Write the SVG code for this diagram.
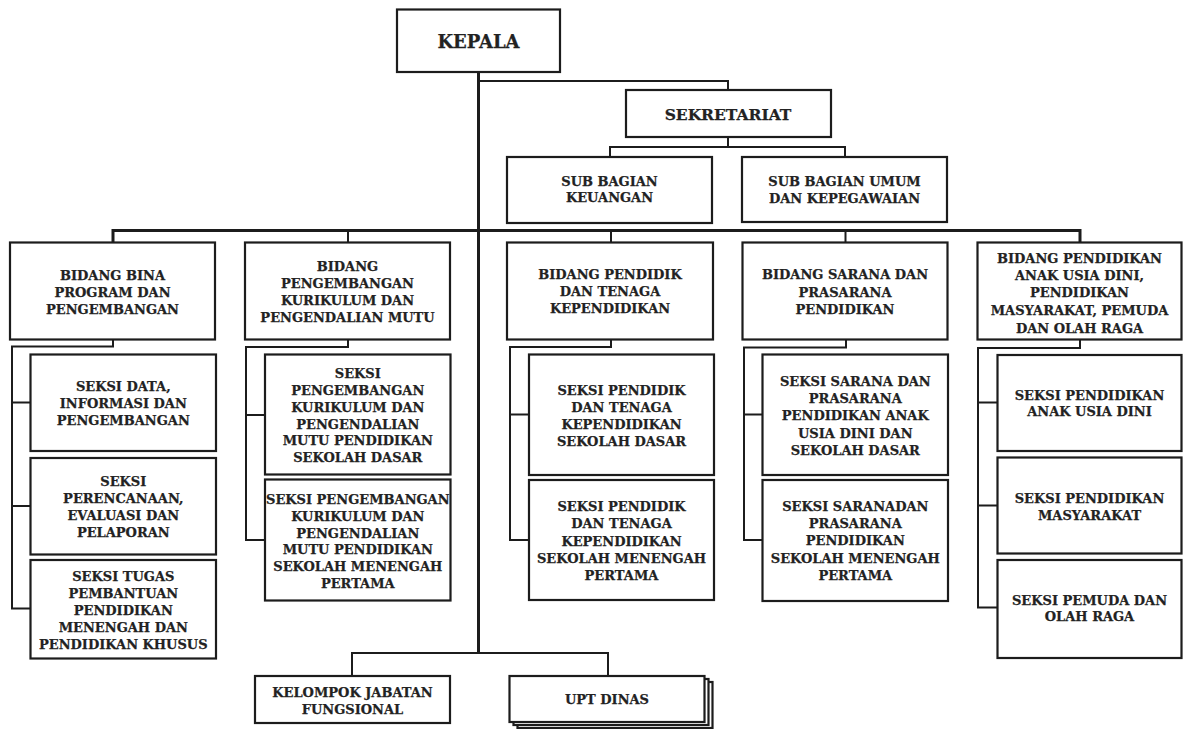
<svg xmlns="http://www.w3.org/2000/svg" width="1184" height="729" viewBox="0 0 1184 729">
<style>
.box{fill:#fff;stroke:#1c1c1c;stroke-width:2.2}
.t{font-family:"DejaVu Serif","Liberation Serif",serif;font-weight:bold;font-size:13px;fill:#222;stroke:#222;stroke-width:0.25;text-anchor:middle}
.big{font-size:18px}
.mid{font-size:15.5px}
.ln{fill:none;stroke:#1c1c1c;stroke-width:2}
.thick{stroke-width:3}
</style>
<rect width="1184" height="729" fill="#fff"/>
<g id="connectors">
<path class="ln thick" d="M478.5,72 V653"/>
<path class="ln" d="M478.5,81 H728 V90"/>
<path class="ln" d="M728,137 V147 M610,157 V147 H845 V157"/>
<path class="ln thick" d="M113,242.5 V230.5 H1080 V242.5"/>
<path class="ln" d="M348,230.5 V242.5 M611,230.5 V242.5 M845.5,230.5 V242.5"/>
<path class="ln" d="M113,339.5 V346.5 H12 V608.5 H30.5 M12,402.5 H30.5 M12,506 H30.5"/>
<path class="ln" d="M348,339.5 V347 H246 V540 H265 M246,415 H265"/>
<path class="ln" d="M611,339.5 V347 H510 V540 H529 M510,414.5 H529"/>
<path class="ln" d="M846,339.5 V347.5 H744 V540 H762.5 M744,414.5 H762.5"/>
<path class="ln" d="M1080,339.5 V348 H978 V607.5 H997.5 M978,402.5 H997.5 M978,505.5 H997.5"/>
<path class="ln" d="M352,676 V653 H608 V676"/>
</g>
<g id="kepala">
<rect class="box" x="397" y="9.5" width="163" height="62.5"/>
<text class="t big" x="478.5" y="48">KEPALA</text>
</g>
<g id="sekretariat">
<rect class="box" x="626" y="90" width="205" height="47"/>
<text class="t mid" x="728" y="119.7">SEKRETARIAT</text>
</g>
<g id="sub-keuangan">
<rect class="box" x="507" y="157" width="205" height="66"/>
<text class="t" x="609.5"><tspan x="609.5" y="186.4">SUB BAGIAN</tspan><tspan x="609.5" y="202.4">KEUANGAN</tspan></text>
</g>
<g id="sub-umum">
<rect class="box" x="742" y="157" width="205" height="65"/>
<text class="t" x="844.5"><tspan x="844.5" y="186.4">SUB BAGIAN UMUM</tspan><tspan x="844.5" y="203">DAN KEPEGAWAIAN</tspan></text>
</g>
<g id="bidang-bina">
<rect class="box" x="10" y="242.5" width="205" height="97"/>
<text class="t"><tspan x="112.5" y="279.7">BIDANG BINA</tspan><tspan x="112.5" y="296.7">PROGRAM DAN</tspan><tspan x="112.5" y="313.7">PENGEMBANGAN</tspan></text>
</g>
<g id="bidang-kurikulum">
<rect class="box" x="245" y="242.5" width="205" height="97"/>
<text class="t"><tspan x="347.5" y="271.2">BIDANG</tspan><tspan x="347.5" y="288.2">PENGEMBANGAN</tspan><tspan x="347.5" y="305.2">KURIKULUM DAN</tspan><tspan x="347.5" y="322.2">PENGENDALIAN MUTU</tspan></text>
</g>
<g id="bidang-pendidik">
<rect class="box" x="507" y="242.5" width="206" height="97"/>
<text class="t"><tspan x="610" y="279.2">BIDANG PENDIDIK</tspan><tspan x="610" y="296.2">DAN TENAGA</tspan><tspan x="610" y="313.2">KEPENDIDIKAN</tspan></text>
</g>
<g id="bidang-sarana">
<rect class="box" x="742.5" y="242.5" width="205" height="97"/>
<text class="t"><tspan x="845" y="279">BIDANG SARANA DAN</tspan><tspan x="845" y="296.7">PRASARANA</tspan><tspan x="845" y="313.7">PENDIDIKAN</tspan></text>
</g>
<g id="bidang-paud">
<rect class="box" x="977.5" y="242.5" width="204" height="97"/>
<text class="t"><tspan x="1079.5" y="262.7">BIDANG PENDIDIKAN</tspan><tspan x="1079.5" y="280.4">ANAK USIA DINI,</tspan><tspan x="1079.5" y="297.4">PENDIDIKAN</tspan><tspan x="1079.5" y="315.4">MASYARAKAT, PEMUDA</tspan><tspan x="1079.5" y="333">DAN OLAH RAGA</tspan></text>
</g>
<g id="seksi-data">
<rect class="box" x="30.5" y="354.5" width="185.5" height="96.5"/>
<text class="t"><tspan x="123.3" y="390.7">SEKSI DATA,</tspan><tspan x="123.3" y="407.7">INFORMASI DAN</tspan><tspan x="123.3" y="424.7">PENGEMBANGAN</tspan></text>
</g>
<g id="seksi-perencanaan">
<rect class="box" x="30.5" y="458" width="185.5" height="96.5"/>
<text class="t"><tspan x="123.3" y="485.7">SEKSI</tspan><tspan x="123.3" y="503.2">PERENCANAAN,</tspan><tspan x="123.3" y="520.2">EVALUASI DAN</tspan><tspan x="123.3" y="537.2">PELAPORAN</tspan></text>
</g>
<g id="seksi-tugas">
<rect class="box" x="30.5" y="560" width="185.5" height="98.5"/>
<text class="t"><tspan x="123.3" y="581.4">SEKSI TUGAS</tspan><tspan x="123.3" y="598.2">PEMBANTUAN</tspan><tspan x="123.3" y="615.2">PENDIDIKAN</tspan><tspan x="123.3" y="632.2">MENENGAH DAN</tspan><tspan x="123.3" y="649.2">PENDIDIKAN KHUSUS</tspan></text>
</g>
<g id="seksi-kurikulum-sd">
<rect class="box" x="265" y="354.5" width="185.5" height="120"/>
<text class="t"><tspan x="357.8" y="378.2">SEKSI</tspan><tspan x="357.8" y="395">PENGEMBANGAN</tspan><tspan x="357.8" y="411.8">KURIKULUM DAN</tspan><tspan x="357.8" y="428.6">PENGENDALIAN</tspan><tspan x="357.8" y="445.4">MUTU PENDIDIKAN</tspan><tspan x="357.8" y="462.2">SEKOLAH DASAR</tspan></text>
</g>
<g id="seksi-kurikulum-smp">
<rect class="box" x="265" y="479.5" width="185.5" height="121"/>
<text class="t"><tspan x="357.8" y="504">SEKSI PENGEMBANGAN</tspan><tspan x="357.8" y="520.8">KURIKULUM DAN</tspan><tspan x="357.8" y="537.6">PENGENDALIAN</tspan><tspan x="357.8" y="554.4">MUTU PENDIDIKAN</tspan><tspan x="357.8" y="571.2">SEKOLAH MENENGAH</tspan><tspan x="357.8" y="588">PERTAMA</tspan></text>
</g>
<g id="seksi-pendidik-sd">
<rect class="box" x="529" y="354.5" width="185" height="120.5"/>
<text class="t"><tspan x="621.5" y="394.7">SEKSI PENDIDIK</tspan><tspan x="621.5" y="411.9">DAN TENAGA</tspan><tspan x="621.5" y="429.1">KEPENDIDIKAN</tspan><tspan x="621.5" y="446.3">SEKOLAH DASAR</tspan></text>
</g>
<g id="seksi-pendidik-smp">
<rect class="box" x="529" y="480" width="185" height="120"/>
<text class="t"><tspan x="621.5" y="511.2">SEKSI PENDIDIK</tspan><tspan x="621.5" y="528.4">DAN TENAGA</tspan><tspan x="621.5" y="545.6">KEPENDIDIKAN</tspan><tspan x="621.5" y="562.8">SEKOLAH MENENGAH</tspan><tspan x="621.5" y="580">PERTAMA</tspan></text>
</g>
<g id="seksi-sarana-sd">
<rect class="box" x="762.5" y="354.5" width="185.5" height="120.5"/>
<text class="t"><tspan x="855.3" y="385.7">SEKSI SARANA DAN</tspan><tspan x="855.3" y="403">PRASARANA</tspan><tspan x="855.3" y="420.3">PENDIDIKAN ANAK</tspan><tspan x="855.3" y="437.6">USIA DINI DAN</tspan><tspan x="855.3" y="454.9">SEKOLAH DASAR</tspan></text>
</g>
<g id="seksi-sarana-smp">
<rect class="box" x="762.5" y="480" width="185.5" height="121"/>
<text class="t"><tspan x="855.3" y="510.7">SEKSI SARANADAN</tspan><tspan x="855.3" y="528">PRASARANA</tspan><tspan x="855.3" y="545.3">PENDIDIKAN</tspan><tspan x="855.3" y="562.6">SEKOLAH MENENGAH</tspan><tspan x="855.3" y="579.9">PERTAMA</tspan></text>
</g>
<g id="seksi-paud">
<rect class="box" x="997.5" y="355" width="184" height="96"/>
<text class="t"><tspan x="1089.5" y="400.4">SEKSI PENDIDIKAN</tspan><tspan x="1089.5" y="416.4">ANAK USIA DINI</tspan></text>
</g>
<g id="seksi-masyarakat">
<rect class="box" x="997.5" y="457.5" width="184" height="96"/>
<text class="t"><tspan x="1089.5" y="503">SEKSI PENDIDIKAN</tspan><tspan x="1089.5" y="519.7">MASYARAKAT</tspan></text>
</g>
<g id="seksi-pemuda">
<rect class="box" x="997.5" y="560" width="184" height="98"/>
<text class="t"><tspan x="1089.5" y="605.4">SEKSI PEMUDA DAN</tspan><tspan x="1089.5" y="621.4">OLAH RAGA</tspan></text>
</g>
<g id="kelompok-jabatan">
<rect class="box" x="255" y="676" width="195" height="47"/>
<text class="t"><tspan x="352.5" y="697.4">KELOMPOK JABATAN</tspan><tspan x="352.5" y="714">FUNGSIONAL</tspan></text>
</g>
<g id="upt-dinas">
<rect class="box" x="517.5" y="682" width="195" height="46"/>
<rect class="box" x="513.5" y="679" width="195" height="46"/>
<rect class="box" x="509.5" y="676" width="195" height="46"/>
<text class="t" x="607" y="704">UPT DINAS</text>
</g>
</svg>
